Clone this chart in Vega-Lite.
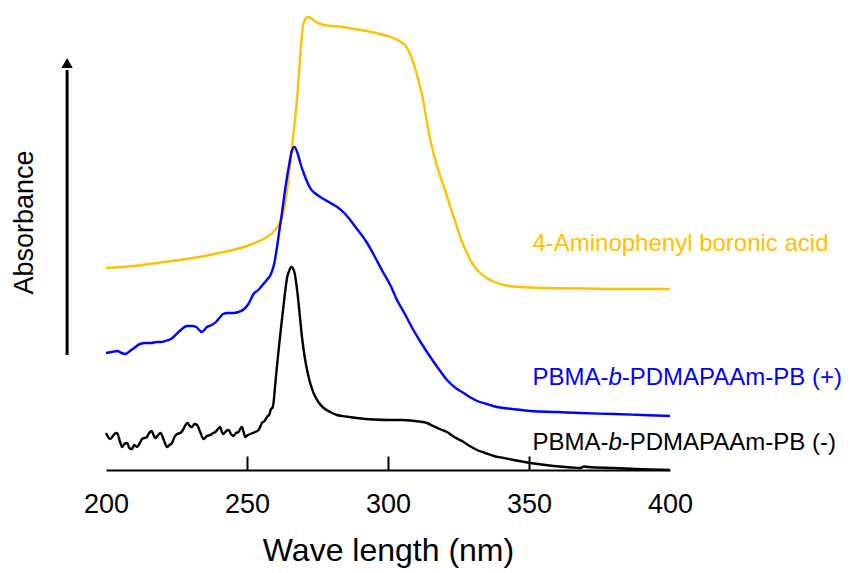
{
  "$schema": "https://vega.github.io/schema/vega-lite/v6.json",
  "width": 564,
  "height": 460,
  "autosize": {"type": "none"},
  "padding": {"left": 106, "top": 10, "right": 189, "bottom": 103},
  "config": {"font": "Liberation Sans", "view": {"stroke": null}},
  "datasets": {
    "spectra": [
      {"s":"A","wl":200,"abs":2.02},{"s":"A","wl":210,"abs":2.04},{"s":"A","wl":218,"abs":2.07},{"s":"A","wl":226,"abs":2.10},{"s":"A","wl":233,"abs":2.13},{"s":"A","wl":240,"abs":2.17},{"s":"A","wl":245,"abs":2.20},{"s":"A","wl":250,"abs":2.24},{"s":"A","wl":253.5,"abs":2.28},{"s":"A","wl":256.5,"abs":2.32},{"s":"A","wl":259,"abs":2.37},{"s":"A","wl":261,"abs":2.44},{"s":"A","wl":262.5,"abs":2.53},{"s":"A","wl":264,"abs":2.75},{"s":"A","wl":265,"abs":2.98},{"s":"A","wl":266,"abs":3.23},{"s":"A","wl":267,"abs":3.5},{"s":"A","wl":268,"abs":3.8},{"s":"A","wl":269,"abs":4.2},{"s":"A","wl":270,"abs":4.46},{"s":"A","wl":271,"abs":4.52},{"s":"A","wl":271.8,"abs":4.53},{"s":"A","wl":273,"abs":4.51},{"s":"A","wl":274.5,"abs":4.48},{"s":"A","wl":276,"abs":4.46},{"s":"A","wl":280,"abs":4.44},{"s":"A","wl":284,"abs":4.43},{"s":"A","wl":288,"abs":4.41},{"s":"A","wl":292.6,"abs":4.39},{"s":"A","wl":297,"abs":4.36},{"s":"A","wl":301,"abs":4.33},{"s":"A","wl":304,"abs":4.29},{"s":"A","wl":306,"abs":4.25},{"s":"A","wl":308,"abs":4.15},{"s":"A","wl":310,"abs":3.98},{"s":"A","wl":312,"abs":3.76},{"s":"A","wl":315,"abs":3.3},{"s":"A","wl":318,"abs":2.98},{"s":"A","wl":320,"abs":2.82},{"s":"A","wl":322,"abs":2.64},{"s":"A","wl":324,"abs":2.47},{"s":"A","wl":326,"abs":2.3},{"s":"A","wl":328,"abs":2.17},{"s":"A","wl":330,"abs":2.06},{"s":"A","wl":332.7,"abs":1.97},{"s":"A","wl":335,"abs":1.92},{"s":"A","wl":338.7,"abs":1.87},{"s":"A","wl":343,"abs":1.84},{"s":"A","wl":347,"abs":1.83},{"s":"A","wl":356,"abs":1.82},{"s":"A","wl":370,"abs":1.815},{"s":"A","wl":385,"abs":1.81},{"s":"A","wl":400,"abs":1.81},
      {"s":"P","wl":200,"abs":1.17},{"s":"P","wl":202,"abs":1.18},{"s":"P","wl":204,"abs":1.19},{"s":"P","wl":205.5,"abs":1.17},{"s":"P","wl":207,"abs":1.16},{"s":"P","wl":208.5,"abs":1.19},{"s":"P","wl":210,"abs":1.22},{"s":"P","wl":212,"abs":1.26},{"s":"P","wl":214,"abs":1.27},{"s":"P","wl":216,"abs":1.27},{"s":"P","wl":218,"abs":1.28},{"s":"P","wl":219.5,"abs":1.28},{"s":"P","wl":221,"abs":1.29},{"s":"P","wl":223,"abs":1.31},{"s":"P","wl":225,"abs":1.36},{"s":"P","wl":226.5,"abs":1.40},{"s":"P","wl":228.7,"abs":1.44},{"s":"P","wl":230.5,"abs":1.44},{"s":"P","wl":232,"abs":1.43},{"s":"P","wl":234,"abs":1.38},{"s":"P","wl":235.8,"abs":1.43},{"s":"P","wl":237.5,"abs":1.45},{"s":"P","wl":239,"abs":1.48},{"s":"P","wl":240.5,"abs":1.53},{"s":"P","wl":241.5,"abs":1.56},{"s":"P","wl":243,"abs":1.57},{"s":"P","wl":245,"abs":1.57},{"s":"P","wl":247,"abs":1.58},{"s":"P","wl":249,"abs":1.61},{"s":"P","wl":250.5,"abs":1.66},{"s":"P","wl":252.3,"abs":1.76},{"s":"P","wl":254,"abs":1.80},{"s":"P","wl":255.5,"abs":1.85},{"s":"P","wl":257,"abs":1.90},{"s":"P","wl":258.5,"abs":1.96},{"s":"P","wl":259.7,"abs":2.07},{"s":"P","wl":260.6,"abs":2.22},{"s":"P","wl":261.5,"abs":2.40},{"s":"P","wl":262.4,"abs":2.57},{"s":"P","wl":263.3,"abs":2.76},{"s":"P","wl":264.2,"abs":2.93},{"s":"P","wl":265,"abs":3.06},{"s":"P","wl":265.7,"abs":3.17},{"s":"P","wl":266.8,"abs":3.23},{"s":"P","wl":267.9,"abs":3.17},{"s":"P","wl":269,"abs":3.06},{"s":"P","wl":270.1,"abs":2.97},{"s":"P","wl":271.2,"abs":2.89},{"s":"P","wl":272.4,"abs":2.82},{"s":"P","wl":274,"abs":2.77},{"s":"P","wl":276,"abs":2.73},{"s":"P","wl":279,"abs":2.68},{"s":"P","wl":282,"abs":2.63},{"s":"P","wl":284.5,"abs":2.57},{"s":"P","wl":286.6,"abs":2.50},{"s":"P","wl":289,"abs":2.41},{"s":"P","wl":292.6,"abs":2.27},{"s":"P","wl":295,"abs":2.15},{"s":"P","wl":298,"abs":1.99},{"s":"P","wl":300.8,"abs":1.85},{"s":"P","wl":303.2,"abs":1.70},{"s":"P","wl":306,"abs":1.56},{"s":"P","wl":309,"abs":1.40},{"s":"P","wl":312,"abs":1.26},{"s":"P","wl":315,"abs":1.13},{"s":"P","wl":318,"abs":1.01},{"s":"P","wl":320.9,"abs":0.90},{"s":"P","wl":324,"abs":0.82},{"s":"P","wl":326.8,"abs":0.77},{"s":"P","wl":329,"abs":0.73},{"s":"P","wl":331.6,"abs":0.69},{"s":"P","wl":335,"abs":0.66},{"s":"P","wl":338.7,"abs":0.63},{"s":"P","wl":344,"abs":0.61},{"s":"P","wl":350.5,"abs":0.59},{"s":"P","wl":360,"abs":0.58},{"s":"P","wl":368,"abs":0.57},{"s":"P","wl":380,"abs":0.56},{"s":"P","wl":390,"abs":0.55},{"s":"P","wl":400,"abs":0.54},
      {"s":"M","wl":200,"abs":0.37},{"s":"M","wl":201.5,"abs":0.31},{"s":"M","wl":203,"abs":0.36},{"s":"M","wl":203.9,"abs":0.37},{"s":"M","wl":205,"abs":0.28},{"s":"M","wl":205.7,"abs":0.23},{"s":"M","wl":206.5,"abs":0.26},{"s":"M","wl":207.5,"abs":0.27},{"s":"M","wl":208.3,"abs":0.22},{"s":"M","wl":209.2,"abs":0.21},{"s":"M","wl":210,"abs":0.25},{"s":"M","wl":211,"abs":0.23},{"s":"M","wl":212,"abs":0.27},{"s":"M","wl":212.8,"abs":0.31},{"s":"M","wl":214.5,"abs":0.33},{"s":"M","wl":215.3,"abs":0.37},{"s":"M","wl":216.1,"abs":0.39},{"s":"M","wl":217.5,"abs":0.32},{"s":"M","wl":218.5,"abs":0.35},{"s":"M","wl":219.3,"abs":0.37},{"s":"M","wl":220.5,"abs":0.30},{"s":"M","wl":221.6,"abs":0.23},{"s":"M","wl":222.5,"abs":0.25},{"s":"M","wl":223.4,"abs":0.27},{"s":"M","wl":224.3,"abs":0.33},{"s":"M","wl":225.2,"abs":0.36},{"s":"M","wl":226.3,"abs":0.37},{"s":"M","wl":227.3,"abs":0.40},{"s":"M","wl":228.2,"abs":0.45},{"s":"M","wl":228.9,"abs":0.47},{"s":"M","wl":229.7,"abs":0.44},{"s":"M","wl":230.5,"abs":0.43},{"s":"M","wl":231.4,"abs":0.46},{"s":"M","wl":232.3,"abs":0.45},{"s":"M","wl":233.4,"abs":0.38},{"s":"M","wl":234.6,"abs":0.31},{"s":"M","wl":235.8,"abs":0.34},{"s":"M","wl":237,"abs":0.35},{"s":"M","wl":238,"abs":0.37},{"s":"M","wl":238.8,"abs":0.38},{"s":"M","wl":239.7,"abs":0.41},{"s":"M","wl":240.5,"abs":0.43},{"s":"M","wl":241.1,"abs":0.38},{"s":"M","wl":241.7,"abs":0.36},{"s":"M","wl":242.6,"abs":0.39},{"s":"M","wl":243.5,"abs":0.40},{"s":"M","wl":244.3,"abs":0.36},{"s":"M","wl":245.2,"abs":0.34},{"s":"M","wl":246.1,"abs":0.37},{"s":"M","wl":247,"abs":0.38},{"s":"M","wl":247.6,"abs":0.41},{"s":"M","wl":248.2,"abs":0.43},{"s":"M","wl":248.8,"abs":0.38},{"s":"M","wl":249.4,"abs":0.33},{"s":"M","wl":250.3,"abs":0.35},{"s":"M","wl":251.2,"abs":0.36},{"s":"M","wl":252,"abs":0.37},{"s":"M","wl":252.9,"abs":0.38},{"s":"M","wl":254.1,"abs":0.40},{"s":"M","wl":255.3,"abs":0.47},{"s":"M","wl":256.2,"abs":0.49},{"s":"M","wl":257.1,"abs":0.53},{"s":"M","wl":258,"abs":0.56},{"s":"M","wl":258.5,"abs":0.61},{"s":"M","wl":259,"abs":0.62},{"s":"M","wl":259.4,"abs":0.67},{"s":"M","wl":260,"abs":0.85},{"s":"M","wl":260.6,"abs":1.03},{"s":"M","wl":261.4,"abs":1.25},{"s":"M","wl":262.1,"abs":1.43},{"s":"M","wl":262.9,"abs":1.63},{"s":"M","wl":263.6,"abs":1.80},{"s":"M","wl":264.2,"abs":1.92},{"s":"M","wl":264.8,"abs":1.98},{"s":"M","wl":265.7,"abs":2.03},{"s":"M","wl":266.8,"abs":1.98},{"s":"M","wl":267.4,"abs":1.88},{"s":"M","wl":267.9,"abs":1.77},{"s":"M","wl":268.7,"abs":1.55},{"s":"M","wl":269.5,"abs":1.33},{"s":"M","wl":270.4,"abs":1.14},{"s":"M","wl":271.3,"abs":1.00},{"s":"M","wl":272.4,"abs":0.87},{"s":"M","wl":273.6,"abs":0.77},{"s":"M","wl":275.3,"abs":0.68},{"s":"M","wl":277.2,"abs":0.62},{"s":"M","wl":279.5,"abs":0.58},{"s":"M","wl":281.9,"abs":0.55},{"s":"M","wl":285,"abs":0.535},{"s":"M","wl":289,"abs":0.52},{"s":"M","wl":295,"abs":0.505},{"s":"M","wl":300.8,"abs":0.50},{"s":"M","wl":305,"abs":0.50},{"s":"M","wl":308,"abs":0.495},{"s":"M","wl":311,"abs":0.485},{"s":"M","wl":313.8,"abs":0.47},{"s":"M","wl":316,"abs":0.44},{"s":"M","wl":318.3,"abs":0.41},{"s":"M","wl":320.9,"abs":0.38},{"s":"M","wl":323.5,"abs":0.33},{"s":"M","wl":326.8,"abs":0.28},{"s":"M","wl":329,"abs":0.24},{"s":"M","wl":331.6,"abs":0.20},{"s":"M","wl":334.5,"abs":0.17},{"s":"M","wl":337.5,"abs":0.14},{"s":"M","wl":341,"abs":0.12},{"s":"M","wl":344.6,"abs":0.10},{"s":"M","wl":350.5,"abs":0.07},{"s":"M","wl":358.7,"abs":0.04},{"s":"M","wl":365,"abs":0.025},{"s":"M","wl":368.2,"abs":0.02},{"s":"M","wl":369.5,"abs":0.035},{"s":"M","wl":371,"abs":0.03},{"s":"M","wl":380,"abs":0.02},{"s":"M","wl":390,"abs":0.008},{"s":"M","wl":400,"abs":0.0}
    ],
    "labels": [
      {"s":"A","pre":"4-Aminophenyl boronic acid","ital":"","post":"","wl":351.2,"abs":2.19},
      {"s":"P","pre":"PBMA-","ital":"b","post":"-PDMAPAAm-PB (+)","wl":351.2,"abs":0.85},
      {"s":"M","pre":"PBMA-","ital":"b","post":"-PDMAPAAm-PB (-)","wl":351.2,"abs":0.20}
    ]
  },
  "layer": [
    {
      "data": {"name": "spectra"},
      "mark": {"type": "line", "strokeWidth": 2.4, "interpolate": "monotone"},
      "encoding": {
        "x": {"field": "wl", "type": "quantitative", "scale": {"domain": [200, 400], "nice": false, "zero": false},
          "axis": {"values": [200, 250, 300, 350, 400], "title": "Wave length (nm)", "grid": false,
            "domainColor": "black", "domainWidth": 2, "tickColor": "black", "tickWidth": 2, "tickSize": -14,
            "tickOpacity": {"condition": {"test": "datum.value == 200 || datum.value == 400", "value": 0}, "value": 1},
            "labelFontSize": 27, "labelColor": "black", "labelPadding": 35, "labelFlush": false,
            "titleFontSize": 32, "titleFontWeight": "normal", "titleColor": "black", "titleBaseline": "top", "titleY": 65}},
        "y": {"field": "abs", "type": "quantitative", "scale": {"domain": [0, 4.6], "nice": false, "zero": false},
          "axis": {"domain": false, "ticks": false, "labels": false, "grid": false, "title": "Absorbance",
            "titleFontSize": 27, "titleFontWeight": "normal", "titleColor": "black", "titleX": -82, "titleY": 212,
            "titleAngle": -90, "titleAlign": "center", "titleBaseline": "middle"}},
        "color": {"field": "s", "type": "nominal", "scale": {"domain": ["A", "P", "M"], "range": ["#FFC000", "#0000FF", "#000000"]}, "legend": null},
        "detail": {"field": "s"}
      }
    },
    {
      "data": {"name": "labels"},
      "mark": {"type": "text", "align": "left", "baseline": "alphabetic", "fontSize": 24},
      "encoding": {
        "x": {"field": "wl", "type": "quantitative"},
        "y": {"field": "abs", "type": "quantitative"},
        "text": {"field": "pre"},
        "color": {"field": "s", "type": "nominal", "scale": {"domain": ["A", "P", "M"], "range": ["#FFC000", "#0000FF", "#000000"]}, "legend": null}
      }
    },
    {
      "data": {"name": "labels"},
      "mark": {"type": "text", "align": "left", "baseline": "alphabetic", "fontSize": 24, "fontStyle": "italic", "dx": 76},
      "encoding": {
        "x": {"field": "wl", "type": "quantitative"},
        "y": {"field": "abs", "type": "quantitative"},
        "text": {"field": "ital"},
        "color": {"field": "s", "type": "nominal", "legend": null}
      }
    },
    {
      "data": {"name": "labels"},
      "mark": {"type": "text", "align": "left", "baseline": "alphabetic", "fontSize": 24, "dx": 89.4},
      "encoding": {
        "x": {"field": "wl", "type": "quantitative"},
        "y": {"field": "abs", "type": "quantitative"},
        "text": {"field": "post"},
        "color": {"field": "s", "type": "nominal", "legend": null}
      }
    },
    {
      "data": {"values": [{"kind": "arrow"}]},
      "mark": {"type": "rule", "color": "black", "strokeWidth": 3},
      "encoding": {
        "x": {"datum": 186.2, "type": "quantitative"},
        "y": {"datum": 1.15, "type": "quantitative"},
        "y2": {"datum": 4.0}
      }
    },
    {
      "data": {"values": [{"kind": "arrowhead"}]},
      "mark": {"type": "point", "shape": "triangle-up", "filled": true, "color": "black", "size": 130, "opacity": 1},
      "encoding": {
        "x": {"datum": 186.2, "type": "quantitative"},
        "y": {"datum": 4.07, "type": "quantitative"}
      }
    }
  ]
}
